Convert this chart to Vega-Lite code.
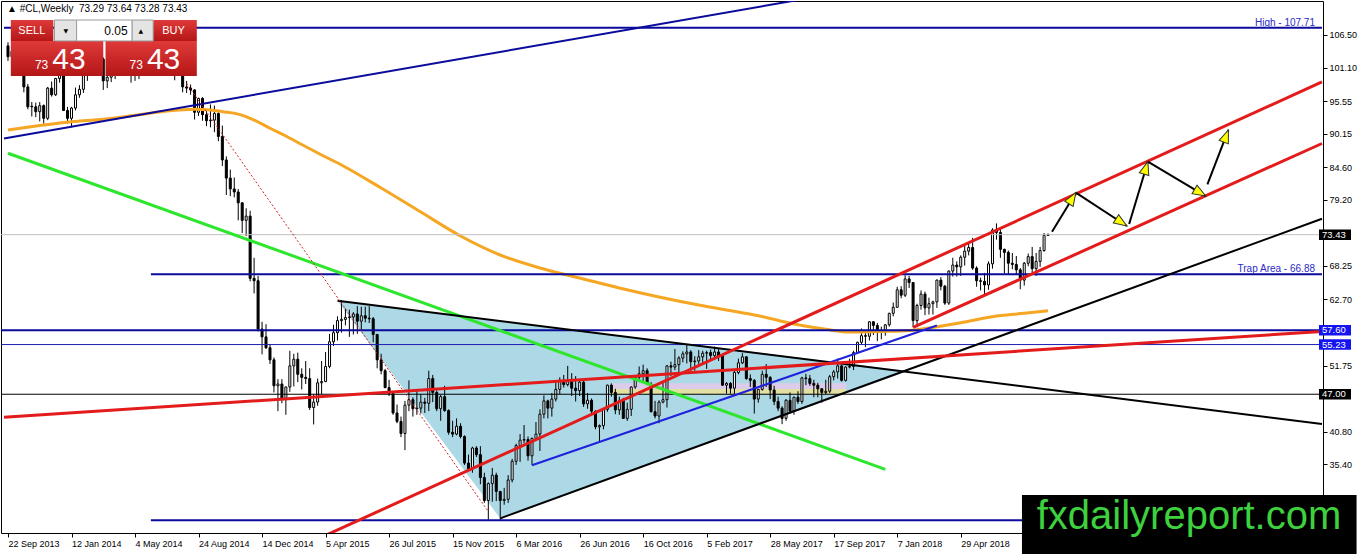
{
  "$schema": "https://vega.github.io/schema/vega-lite/v6.json",
  "width": 1322,
  "height": 532,
  "autosize": "none",
  "padding": {"left": 1, "top": 1, "right": 39, "bottom": 21},
  "background": "white",
  "title": {
    "text": "▲ #CL,Weekly\u00a0\u00a073.29 73.64 73.28 73.43",
    "anchor": "start", "frame": "group", "offset": -13, "dx": 6,
    "fontSize": 10, "fontWeight": "normal", "font": "Liberation Sans", "color": "#000000"
  },
  "datasets": {
    "tri": [
      {"d": "2015-04-26", "t": 62.49, "b": 62.49},
      {"d": "2016-02-07", "t": 59.17, "b": 26.45},
      {"d": "2018-01-26", "t": 50.85, "b": 50.85}
    ],
    "bands": [
      {"a": "2016-08-19", "b": "2017-10-09", "p": 48.82, "q": 47.87, "k": "lav"},
      {"a": "2016-08-19", "b": "2017-10-09", "p": 47.87, "q": 47.0, "k": "yel"}
    ],
    "candles": [
      {"d":"2013-09-22","o":104.7,"h":105.3,"l":102.2,"c":102.9},
      {"d":"2013-09-29","o":102.9,"h":104.3,"l":101.6,"c":103.8},
      {"d":"2013-10-06","o":103.8,"h":104.2,"l":101.0,"c":102.0},
      {"d":"2013-10-13","o":102.0,"h":102.9,"l":100.4,"c":100.8},
      {"d":"2013-10-20","o":100.8,"h":101.3,"l":97.0,"c":97.9},
      {"d":"2013-10-27","o":97.9,"h":98.4,"l":94.2,"c":94.6},
      {"d":"2013-11-03","o":94.7,"h":95.4,"l":93.0,"c":94.6},
      {"d":"2013-11-10","o":94.6,"h":95.3,"l":92.9,"c":93.8},
      {"d":"2013-11-17","o":93.8,"h":95.4,"l":92.2,"c":94.8},
      {"d":"2013-11-24","o":94.8,"h":95.0,"l":91.8,"c":92.7},
      {"d":"2013-12-01","o":92.7,"h":97.9,"l":92.4,"c":97.7},
      {"d":"2013-12-08","o":97.7,"h":98.8,"l":96.3,"c":96.6},
      {"d":"2013-12-15","o":96.6,"h":99.4,"l":96.4,"c":99.3},
      {"d":"2013-12-22","o":99.3,"h":100.8,"l":98.6,"c":100.3},
      {"d":"2013-12-29","o":100.3,"h":100.4,"l":93.9,"c":94.0},
      {"d":"2014-01-05","o":94.0,"h":94.6,"l":91.8,"c":92.7},
      {"d":"2014-01-12","o":92.7,"h":94.6,"l":91.2,"c":94.4},
      {"d":"2014-01-19","o":94.4,"h":97.8,"l":94.0,"c":96.6},
      {"d":"2014-01-26","o":96.6,"h":98.2,"l":96.1,"c":97.5},
      {"d":"2014-02-02","o":97.5,"h":100.2,"l":96.9,"c":99.9},
      {"d":"2014-02-09","o":99.9,"h":100.9,"l":98.9,"c":100.3},
      {"d":"2014-02-16","o":100.3,"h":103.8,"l":100.1,"c":102.2},
      {"d":"2014-02-23","o":102.2,"h":103.4,"l":101.3,"c":102.6},
      {"d":"2014-03-02","o":102.6,"h":105.2,"l":101.7,"c":102.5},
      {"d":"2014-03-09","o":102.5,"h":102.8,"l":97.4,"c":98.9},
      {"d":"2014-03-16","o":98.9,"h":100.4,"l":97.7,"c":99.5},
      {"d":"2014-03-23","o":99.5,"h":101.8,"l":98.7,"c":101.7},
      {"d":"2014-03-30","o":101.7,"h":102.0,"l":99.2,"c":101.1},
      {"d":"2014-04-06","o":101.1,"h":104.0,"l":100.8,"c":103.7},
      {"d":"2014-04-13","o":103.7,"h":104.9,"l":103.2,"c":104.3},
      {"d":"2014-04-20","o":104.3,"h":104.4,"l":100.5,"c":100.6},
      {"d":"2014-04-27","o":100.6,"h":101.2,"l":98.6,"c":99.8},
      {"d":"2014-05-04","o":99.8,"h":100.5,"l":98.9,"c":100.0},
      {"d":"2014-05-11","o":100.0,"h":102.4,"l":99.2,"c":102.0},
      {"d":"2014-05-18","o":102.0,"h":104.5,"l":101.8,"c":104.4},
      {"d":"2014-05-25","o":104.4,"h":104.5,"l":102.1,"c":102.7},
      {"d":"2014-06-01","o":102.7,"h":104.1,"l":101.8,"c":102.6},
      {"d":"2014-06-08","o":102.6,"h":107.2,"l":102.5,"c":106.9},
      {"d":"2014-06-15","o":106.9,"h":107.71,"l":105.9,"c":107.3},
      {"d":"2014-06-22","o":107.3,"h":107.5,"l":105.3,"c":105.7},
      {"d":"2014-06-29","o":105.7,"h":106.0,"l":103.8,"c":104.1},
      {"d":"2014-07-06","o":104.1,"h":104.2,"l":100.4,"c":100.8},
      {"d":"2014-07-13","o":100.8,"h":104.0,"l":99.0,"c":103.1},
      {"d":"2014-07-20","o":103.1,"h":105.2,"l":101.8,"c":102.1},
      {"d":"2014-07-27","o":102.1,"h":102.4,"l":97.0,"c":97.9},
      {"d":"2014-08-03","o":97.9,"h":98.9,"l":96.9,"c":97.7},
      {"d":"2014-08-10","o":97.7,"h":98.3,"l":96.6,"c":97.4},
      {"d":"2014-08-17","o":97.4,"h":97.5,"l":92.5,"c":93.7},
      {"d":"2014-08-24","o":93.7,"h":96.1,"l":93.1,"c":96.0},
      {"d":"2014-08-31","o":96.0,"h":96.2,"l":92.3,"c":93.3},
      {"d":"2014-09-07","o":93.3,"h":94.0,"l":91.4,"c":92.3},
      {"d":"2014-09-14","o":92.3,"h":95.0,"l":91.2,"c":92.4},
      {"d":"2014-09-21","o":92.4,"h":94.8,"l":90.4,"c":93.5},
      {"d":"2014-09-28","o":93.5,"h":93.7,"l":88.9,"c":89.7},
      {"d":"2014-10-05","o":89.7,"h":91.5,"l":84.8,"c":85.8},
      {"d":"2014-10-12","o":85.8,"h":86.4,"l":80.0,"c":82.8},
      {"d":"2014-10-19","o":82.8,"h":84.2,"l":79.8,"c":81.0},
      {"d":"2014-10-26","o":81.0,"h":82.9,"l":79.6,"c":80.5},
      {"d":"2014-11-02","o":80.5,"h":81.0,"l":75.8,"c":78.7},
      {"d":"2014-11-09","o":78.7,"h":78.8,"l":73.7,"c":75.8},
      {"d":"2014-11-16","o":75.8,"h":77.8,"l":73.2,"c":76.5},
      {"d":"2014-11-23","o":76.5,"h":77.4,"l":65.7,"c":66.2},
      {"d":"2014-11-30","o":66.2,"h":69.6,"l":63.7,"c":65.8},
      {"d":"2014-12-07","o":65.8,"h":66.6,"l":57.4,"c":57.8},
      {"d":"2014-12-14","o":57.8,"h":59.0,"l":53.6,"c":56.5},
      {"d":"2014-12-21","o":56.5,"h":58.6,"l":54.5,"c":54.7},
      {"d":"2014-12-28","o":54.7,"h":55.2,"l":52.0,"c":52.7},
      {"d":"2015-01-04","o":52.7,"h":53.1,"l":47.3,"c":48.4},
      {"d":"2015-01-11","o":48.4,"h":49.5,"l":44.2,"c":48.7},
      {"d":"2015-01-18","o":48.7,"h":49.5,"l":45.5,"c":46.3},
      {"d":"2015-01-25","o":46.3,"h":48.3,"l":43.6,"c":48.2},
      {"d":"2015-02-01","o":48.2,"h":54.2,"l":47.4,"c":51.7},
      {"d":"2015-02-08","o":51.7,"h":53.7,"l":48.3,"c":52.8},
      {"d":"2015-02-15","o":52.8,"h":53.9,"l":49.0,"c":50.3},
      {"d":"2015-02-22","o":50.3,"h":51.3,"l":47.8,"c":49.8},
      {"d":"2015-03-01","o":49.8,"h":52.5,"l":48.7,"c":49.6},
      {"d":"2015-03-08","o":49.6,"h":51.3,"l":44.4,"c":44.8},
      {"d":"2015-03-15","o":44.8,"h":47.0,"l":42.0,"c":45.7},
      {"d":"2015-03-22","o":45.7,"h":49.6,"l":45.1,"c":48.9},
      {"d":"2015-03-29","o":48.9,"h":52.5,"l":47.0,"c":49.1},
      {"d":"2015-04-05","o":49.1,"h":54.0,"l":49.0,"c":51.6},
      {"d":"2015-04-12","o":51.6,"h":57.0,"l":51.3,"c":55.7},
      {"d":"2015-04-19","o":55.7,"h":58.5,"l":55.0,"c":57.2},
      {"d":"2015-04-26","o":57.2,"h":59.9,"l":55.9,"c":59.2},
      {"d":"2015-05-03","o":59.2,"h":62.6,"l":57.2,"c":59.4},
      {"d":"2015-05-10","o":59.4,"h":61.2,"l":58.4,"c":59.7},
      {"d":"2015-05-17","o":59.7,"h":61.0,"l":56.5,"c":59.8},
      {"d":"2015-05-24","o":59.8,"h":60.6,"l":56.9,"c":60.3},
      {"d":"2015-05-31","o":60.3,"h":61.6,"l":57.0,"c":59.1},
      {"d":"2015-06-07","o":59.1,"h":61.5,"l":57.6,"c":60.0},
      {"d":"2015-06-14","o":60.0,"h":61.5,"l":58.9,"c":59.6},
      {"d":"2015-06-21","o":59.6,"h":61.6,"l":58.8,"c":59.5},
      {"d":"2015-06-28","o":59.5,"h":59.8,"l":55.6,"c":56.9},
      {"d":"2015-07-05","o":56.9,"h":57.0,"l":51.3,"c":52.7},
      {"d":"2015-07-12","o":52.7,"h":53.7,"l":50.3,"c":50.9},
      {"d":"2015-07-19","o":50.9,"h":51.2,"l":48.0,"c":48.1},
      {"d":"2015-07-26","o":48.1,"h":49.4,"l":46.7,"c":47.1},
      {"d":"2015-08-02","o":47.1,"h":47.2,"l":43.6,"c":43.9},
      {"d":"2015-08-09","o":43.9,"h":45.3,"l":42.2,"c":42.5},
      {"d":"2015-08-16","o":42.5,"h":43.3,"l":39.9,"c":40.5},
      {"d":"2015-08-23","o":40.5,"h":45.9,"l":37.75,"c":45.2},
      {"d":"2015-08-30","o":45.2,"h":49.3,"l":44.2,"c":46.1},
      {"d":"2015-09-06","o":46.1,"h":46.5,"l":43.3,"c":44.6},
      {"d":"2015-09-13","o":44.6,"h":47.7,"l":43.6,"c":44.7},
      {"d":"2015-09-20","o":44.7,"h":47.0,"l":43.8,"c":45.7},
      {"d":"2015-09-27","o":45.7,"h":46.4,"l":43.9,"c":45.5},
      {"d":"2015-10-04","o":45.5,"h":50.9,"l":44.2,"c":49.6},
      {"d":"2015-10-11","o":49.6,"h":50.2,"l":45.7,"c":47.3},
      {"d":"2015-10-18","o":47.3,"h":47.6,"l":44.2,"c":44.6},
      {"d":"2015-10-25","o":44.6,"h":46.9,"l":42.6,"c":46.6},
      {"d":"2015-11-01","o":46.6,"h":48.4,"l":44.1,"c":44.3},
      {"d":"2015-11-08","o":44.3,"h":44.5,"l":40.3,"c":40.7},
      {"d":"2015-11-15","o":40.7,"h":42.6,"l":39.9,"c":40.4},
      {"d":"2015-11-22","o":40.4,"h":43.0,"l":40.2,"c":41.7},
      {"d":"2015-11-29","o":41.7,"h":42.2,"l":39.7,"c":40.0},
      {"d":"2015-12-06","o":40.0,"h":40.2,"l":35.3,"c":35.6},
      {"d":"2015-12-13","o":35.6,"h":37.0,"l":34.5,"c":34.7},
      {"d":"2015-12-20","o":34.7,"h":38.3,"l":34.0,"c":38.1},
      {"d":"2015-12-27","o":38.1,"h":38.4,"l":36.6,"c":37.0},
      {"d":"2016-01-03","o":37.0,"h":38.4,"l":32.1,"c":33.2},
      {"d":"2016-01-10","o":33.2,"h":34.0,"l":29.0,"c":29.4},
      {"d":"2016-01-17","o":29.4,"h":32.4,"l":26.2,"c":32.2},
      {"d":"2016-01-24","o":32.2,"h":34.8,"l":29.2,"c":33.6},
      {"d":"2016-01-31","o":33.6,"h":34.0,"l":29.3,"c":30.9},
      {"d":"2016-02-07","o":30.9,"h":31.0,"l":26.05,"c":29.4},
      {"d":"2016-02-14","o":29.4,"h":31.5,"l":28.7,"c":29.6},
      {"d":"2016-02-21","o":29.6,"h":33.6,"l":29.0,"c":32.8},
      {"d":"2016-02-28","o":32.8,"h":36.3,"l":32.4,"c":35.9},
      {"d":"2016-03-06","o":35.9,"h":38.8,"l":35.3,"c":38.5},
      {"d":"2016-03-13","o":38.5,"h":40.4,"l":35.8,"c":39.4},
      {"d":"2016-03-20","o":39.4,"h":41.9,"l":38.9,"c":39.5},
      {"d":"2016-03-27","o":39.5,"h":40.0,"l":36.0,"c":36.8},
      {"d":"2016-04-03","o":36.8,"h":39.8,"l":35.3,"c":39.7},
      {"d":"2016-04-10","o":39.7,"h":42.4,"l":39.6,"c":40.4},
      {"d":"2016-04-17","o":40.4,"h":44.5,"l":37.6,"c":43.7},
      {"d":"2016-04-24","o":43.7,"h":46.8,"l":43.0,"c":45.9},
      {"d":"2016-05-01","o":45.9,"h":46.1,"l":43.0,"c":44.7},
      {"d":"2016-05-08","o":44.7,"h":47.2,"l":43.3,"c":46.2},
      {"d":"2016-05-15","o":46.2,"h":48.9,"l":45.8,"c":47.8},
      {"d":"2016-05-22","o":47.8,"h":49.8,"l":47.0,"c":49.3},
      {"d":"2016-05-29","o":49.3,"h":50.2,"l":48.1,"c":48.6},
      {"d":"2016-06-05","o":48.6,"h":51.7,"l":48.3,"c":49.1},
      {"d":"2016-06-12","o":49.1,"h":50.5,"l":46.7,"c":48.0},
      {"d":"2016-06-19","o":48.0,"h":50.0,"l":45.8,"c":47.6},
      {"d":"2016-06-26","o":47.6,"h":49.4,"l":46.7,"c":49.0},
      {"d":"2016-07-03","o":49.0,"h":49.3,"l":44.9,"c":45.4},
      {"d":"2016-07-10","o":45.4,"h":47.2,"l":44.6,"c":46.0},
      {"d":"2016-07-17","o":46.0,"h":46.3,"l":43.8,"c":44.2},
      {"d":"2016-07-24","o":44.2,"h":44.3,"l":41.2,"c":41.6},
      {"d":"2016-07-31","o":41.6,"h":42.0,"l":39.2,"c":41.8},
      {"d":"2016-08-07","o":41.8,"h":44.7,"l":41.2,"c":44.5},
      {"d":"2016-08-14","o":44.5,"h":48.6,"l":44.1,"c":48.5},
      {"d":"2016-08-21","o":48.5,"h":48.8,"l":46.6,"c":47.3},
      {"d":"2016-08-28","o":47.3,"h":47.9,"l":43.7,"c":44.4},
      {"d":"2016-09-04","o":44.4,"h":46.6,"l":43.6,"c":45.9},
      {"d":"2016-09-11","o":45.9,"h":46.4,"l":42.9,"c":43.0},
      {"d":"2016-09-18","o":43.0,"h":45.6,"l":42.6,"c":44.5},
      {"d":"2016-09-25","o":44.5,"h":48.3,"l":43.4,"c":48.2},
      {"d":"2016-10-02","o":48.2,"h":50.0,"l":47.9,"c":49.8},
      {"d":"2016-10-09","o":49.8,"h":51.6,"l":49.2,"c":50.4},
      {"d":"2016-10-16","o":50.4,"h":51.9,"l":49.1,"c":50.9},
      {"d":"2016-10-23","o":50.9,"h":51.3,"l":48.5,"c":48.7},
      {"d":"2016-10-30","o":48.7,"h":49.0,"l":44.0,"c":44.1},
      {"d":"2016-11-06","o":44.1,"h":45.9,"l":43.0,"c":43.4},
      {"d":"2016-11-13","o":43.4,"h":46.0,"l":42.2,"c":45.7},
      {"d":"2016-11-20","o":45.7,"h":49.2,"l":45.5,"c":46.1},
      {"d":"2016-11-27","o":46.1,"h":51.8,"l":44.8,"c":51.7},
      {"d":"2016-12-04","o":51.7,"h":52.4,"l":50.0,"c":51.5},
      {"d":"2016-12-11","o":51.5,"h":54.5,"l":51.0,"c":51.9},
      {"d":"2016-12-18","o":51.9,"h":53.3,"l":50.7,"c":53.0},
      {"d":"2016-12-25","o":53.0,"h":54.1,"l":52.3,"c":53.7},
      {"d":"2017-01-01","o":53.7,"h":55.2,"l":52.1,"c":54.0},
      {"d":"2017-01-08","o":54.0,"h":54.3,"l":50.9,"c":52.4},
      {"d":"2017-01-15","o":52.4,"h":53.3,"l":50.9,"c":52.5},
      {"d":"2017-01-22","o":52.5,"h":54.3,"l":51.9,"c":53.2},
      {"d":"2017-01-29","o":53.2,"h":54.2,"l":51.9,"c":53.8},
      {"d":"2017-02-05","o":53.8,"h":54.2,"l":51.2,"c":53.9},
      {"d":"2017-02-12","o":53.9,"h":54.4,"l":52.6,"c":53.4},
      {"d":"2017-02-19","o":53.4,"h":54.9,"l":52.9,"c":54.0},
      {"d":"2017-02-26","o":54.0,"h":54.6,"l":52.5,"c":53.3},
      {"d":"2017-03-05","o":53.3,"h":53.4,"l":48.4,"c":48.5},
      {"d":"2017-03-12","o":48.5,"h":49.0,"l":47.1,"c":48.8},
      {"d":"2017-03-19","o":48.8,"h":49.0,"l":47.1,"c":48.0},
      {"d":"2017-03-26","o":48.0,"h":50.9,"l":47.0,"c":50.6},
      {"d":"2017-04-02","o":50.6,"h":52.9,"l":50.3,"c":52.2},
      {"d":"2017-04-09","o":52.2,"h":53.8,"l":52.0,"c":53.2},
      {"d":"2017-04-16","o":53.2,"h":53.3,"l":49.4,"c":49.6},
      {"d":"2017-04-23","o":49.6,"h":50.3,"l":48.2,"c":49.3},
      {"d":"2017-04-30","o":49.3,"h":49.5,"l":43.8,"c":46.2},
      {"d":"2017-05-07","o":46.2,"h":47.9,"l":45.6,"c":47.8},
      {"d":"2017-05-14","o":47.8,"h":50.9,"l":47.6,"c":50.3},
      {"d":"2017-05-21","o":50.3,"h":52.0,"l":48.2,"c":49.8},
      {"d":"2017-05-28","o":49.8,"h":50.0,"l":46.2,"c":47.7},
      {"d":"2017-06-04","o":47.7,"h":48.4,"l":45.2,"c":45.8},
      {"d":"2017-06-11","o":45.8,"h":46.6,"l":44.2,"c":44.7},
      {"d":"2017-06-18","o":44.7,"h":45.0,"l":42.05,"c":43.0},
      {"d":"2017-06-25","o":43.0,"h":46.2,"l":42.6,"c":46.0},
      {"d":"2017-07-02","o":46.0,"h":47.3,"l":43.8,"c":44.2},
      {"d":"2017-07-09","o":44.2,"h":46.6,"l":43.6,"c":46.5},
      {"d":"2017-07-16","o":46.5,"h":47.5,"l":45.4,"c":45.8},
      {"d":"2017-07-23","o":45.8,"h":49.9,"l":45.4,"c":49.7},
      {"d":"2017-07-30","o":49.7,"h":50.4,"l":48.5,"c":49.6},
      {"d":"2017-08-06","o":49.6,"h":50.2,"l":48.4,"c":48.8},
      {"d":"2017-08-13","o":48.8,"h":49.4,"l":46.5,"c":48.5},
      {"d":"2017-08-20","o":48.5,"h":48.9,"l":46.5,"c":47.9},
      {"d":"2017-08-27","o":47.9,"h":48.0,"l":45.6,"c":47.3},
      {"d":"2017-09-03","o":47.3,"h":49.4,"l":47.0,"c":47.5},
      {"d":"2017-09-10","o":47.5,"h":50.2,"l":47.2,"c":49.9},
      {"d":"2017-09-17","o":49.9,"h":51.0,"l":49.3,"c":50.7},
      {"d":"2017-09-24","o":50.7,"h":52.9,"l":49.6,"c":51.7},
      {"d":"2017-10-01","o":51.7,"h":51.8,"l":49.1,"c":49.3},
      {"d":"2017-10-08","o":49.3,"h":51.6,"l":49.1,"c":51.5},
      {"d":"2017-10-15","o":51.5,"h":52.9,"l":51.3,"c":51.6},
      {"d":"2017-10-22","o":51.6,"h":54.2,"l":51.0,"c":53.9},
      {"d":"2017-10-29","o":53.9,"h":55.7,"l":53.8,"c":55.6},
      {"d":"2017-11-05","o":55.6,"h":57.9,"l":55.3,"c":56.7},
      {"d":"2017-11-12","o":56.7,"h":57.2,"l":54.8,"c":56.6},
      {"d":"2017-11-19","o":56.6,"h":59.1,"l":55.9,"c":59.0},
      {"d":"2017-11-26","o":59.0,"h":59.1,"l":56.8,"c":58.4},
      {"d":"2017-12-03","o":58.4,"h":58.8,"l":55.8,"c":57.4},
      {"d":"2017-12-10","o":57.4,"h":58.2,"l":56.1,"c":57.3},
      {"d":"2017-12-17","o":57.3,"h":58.6,"l":56.7,"c":58.5},
      {"d":"2017-12-24","o":58.5,"h":60.5,"l":58.2,"c":60.4},
      {"d":"2017-12-31","o":60.4,"h":62.2,"l":59.9,"c":61.4},
      {"d":"2018-01-07","o":61.4,"h":64.8,"l":61.3,"c":64.3},
      {"d":"2018-01-14","o":64.3,"h":64.9,"l":62.9,"c":63.4},
      {"d":"2018-01-21","o":63.4,"h":66.7,"l":63.1,"c":66.1},
      {"d":"2018-01-28","o":66.1,"h":66.6,"l":64.6,"c":65.5},
      {"d":"2018-02-04","o":65.5,"h":65.6,"l":58.1,"c":59.2},
      {"d":"2018-02-11","o":59.2,"h":62.0,"l":58.1,"c":61.7},
      {"d":"2018-02-18","o":61.7,"h":64.2,"l":61.0,"c":63.6},
      {"d":"2018-02-25","o":63.6,"h":64.0,"l":60.1,"c":61.3},
      {"d":"2018-03-04","o":61.3,"h":63.0,"l":60.2,"c":62.0},
      {"d":"2018-03-11","o":62.0,"h":62.5,"l":60.2,"c":62.3},
      {"d":"2018-03-18","o":62.3,"h":66.0,"l":61.3,"c":65.9},
      {"d":"2018-03-25","o":65.9,"h":66.4,"l":64.2,"c":64.9},
      {"d":"2018-04-01","o":64.9,"h":65.1,"l":61.8,"c":62.1},
      {"d":"2018-04-08","o":62.1,"h":67.5,"l":61.8,"c":67.4},
      {"d":"2018-04-15","o":67.4,"h":69.6,"l":66.5,"c":68.4},
      {"d":"2018-04-22","o":68.4,"h":69.0,"l":66.5,"c":68.1},
      {"d":"2018-04-29","o":68.1,"h":70.0,"l":66.6,"c":69.7},
      {"d":"2018-05-06","o":69.7,"h":71.9,"l":68.3,"c":70.7},
      {"d":"2018-05-13","o":70.7,"h":72.2,"l":70.0,"c":71.3},
      {"d":"2018-05-20","o":71.3,"h":72.9,"l":67.6,"c":67.9},
      {"d":"2018-05-27","o":67.9,"h":68.2,"l":64.8,"c":65.8},
      {"d":"2018-06-03","o":65.8,"h":66.3,"l":64.2,"c":65.7},
      {"d":"2018-06-10","o":65.7,"h":67.1,"l":63.6,"c":65.1},
      {"d":"2018-06-17","o":65.1,"h":69.0,"l":64.3,"c":68.6},
      {"d":"2018-06-24","o":68.6,"h":74.5,"l":67.8,"c":74.2},
      {"d":"2018-07-01","o":74.2,"h":75.3,"l":72.6,"c":73.8},
      {"d":"2018-07-08","o":73.8,"h":74.7,"l":69.6,"c":71.0},
      {"d":"2018-07-15","o":71.0,"h":71.1,"l":67.0,"c":70.5},
      {"d":"2018-07-22","o":70.5,"h":70.8,"l":66.9,"c":68.7},
      {"d":"2018-07-29","o":68.7,"h":70.4,"l":67.7,"c":68.5},
      {"d":"2018-08-05","o":68.5,"h":69.9,"l":66.9,"c":67.6},
      {"d":"2018-08-12","o":67.6,"h":67.9,"l":64.4,"c":65.9},
      {"d":"2018-08-19","o":65.9,"h":68.9,"l":65.0,"c":68.7},
      {"d":"2018-08-26","o":68.7,"h":70.3,"l":68.2,"c":69.8},
      {"d":"2018-09-02","o":69.8,"h":71.4,"l":66.9,"c":67.8},
      {"d":"2018-09-09","o":67.8,"h":70.4,"l":66.6,"c":69.0},
      {"d":"2018-09-16","o":69.0,"h":71.4,"l":68.1,"c":70.8},
      {"d":"2018-09-23","o":70.8,"h":73.7,"l":70.6,"c":73.3},
      {"d":"2018-09-30","o":73.29,"h":73.64,"l":73.28,"c":73.43}
    ],
    "ma": [
      {"d":"2013-09-22","p":90.77},{"d":"2013-11-17","p":91.5},{"d":"2014-01-12","p":92.14},
      {"d":"2014-03-09","p":92.54},{"d":"2014-05-04","p":93.2},{"d":"2014-06-29","p":93.9},
      {"d":"2014-08-17","p":94.19},{"d":"2014-09-14","p":94.08},{"d":"2014-10-05","p":93.8},
      {"d":"2014-11-02","p":93.4},{"d":"2014-11-30","p":92.42},{"d":"2014-12-28","p":91.05},
      {"d":"2015-01-25","p":89.77},{"d":"2015-02-22","p":88.36},{"d":"2015-03-29","p":86.63},
      {"d":"2015-05-03","p":84.97},
      {"d":"2015-07-12","p":81.16},{"d":"2015-09-20","p":77.18},{"d":"2015-11-29","p":73.21},
      {"d":"2016-02-07","p":70.06},{"d":"2016-04-17","p":67.91},{"d":"2016-06-26","p":66.26},
      {"d":"2016-09-04","p":64.6},{"d":"2016-11-13","p":63.11},{"d":"2017-01-22","p":61.78},
      {"d":"2017-04-02","p":60.62},{"d":"2017-05-07","p":60.01},{"d":"2017-07-09","p":58.64},
      {"d":"2017-09-03","p":57.76},{"d":"2017-10-15","p":57.31},{"d":"2017-12-10","p":57.4},
      {"d":"2018-01-28","p":57.56},{"d":"2018-03-18","p":58.19},{"d":"2018-04-29","p":58.85},
      {"d":"2018-06-24","p":59.84},{"d":"2018-08-19","p":60.41},{"d":"2018-09-30","p":60.84}
    ],
    "levels": [
      {"p": 73.43, "k": "bid"},
      {"p": 57.60, "k": "navy"},
      {"p": 55.23, "k": "blue"},
      {"p": 47.00, "k": "black"}
    ],
    "seg": [
      {"a":"2013-09-15","b":"2017-07-23","p":89.37,"q":112.41,"k":"navy"},
      {"a":"2013-09-15","b":"2020-01-26","p":107.71,"q":107.71,"k":"navy"},
      {"a":"2014-06-01","b":"2020-01-26","p":66.88,"q":66.88,"k":"navy"},
      {"a":"2014-06-01","b":"2020-01-26","p":26.15,"q":26.15,"k":"navy"},
      {"a":"2013-09-22","b":"2017-12-17","p":86.92,"q":34.57,"k":"green"},
      {"a":"2015-04-26","b":"2020-01-26","p":62.49,"q":42.09,"k":"black"},
      {"a":"2016-02-07","b":"2020-01-26","p":26.45,"q":76.06,"k":"black"},
      {"a":"2016-04-03","b":"2018-03-18","p":35.25,"q":58.39,"k":"blue"},
      {"a":"2013-09-15","b":"2020-01-26","p":43.19,"q":57.41,"k":"red"},
      {"a":"2015-04-05","b":"2020-01-26","p":23.63,"q":98.72,"k":"red"},
      {"a":"2018-02-04","b":"2020-01-26","p":58.06,"q":88.53,"k":"red"},
      {"a":"2018-10-07","b":"2018-11-18","p":73.92,"q":80.38,"k":"arrow"},
      {"a":"2018-11-18","b":"2019-02-16","p":80.38,"q":74.87,"k":"arrow"},
      {"a":"2019-02-20","b":"2019-03-25","p":75.20,"q":85.52,"k":"arrow"},
      {"a":"2019-03-25","b":"2019-07-05","p":85.52,"q":79.83,"k":"arrow"},
      {"a":"2019-07-08","b":"2019-08-14","p":81.77,"q":90.77,"k":"arrow"}
    ],
    "dotted": [
      {"a":"2014-08-03","b":"2016-01-17","p":98.47,"q":27.58}
    ],
    "heads": [
      {"d":"2018-11-18","p":80.38,"a":32},
      {"d":"2019-02-16","p":74.87,"a":123},
      {"d":"2019-03-25","p":85.52,"a":17},
      {"d":"2019-07-05","p":79.83,"a":120.5},
      {"d":"2019-08-14","p":90.77,"a":21}
    ],
    "notes": [
      {"t": "High - 107.71", "p": 107.71},
      {"t": "Trap Area - 66.88", "p": 66.88}
    ],
    "panel": [
      {"a":"2013-09-27","b":"2013-12-11","p":108.98,"q":105.51,"k":"red"},
      {"a":"2014-06-05","b":"2014-08-21","p":108.98,"q":105.51,"k":"red"},
      {"a":"2013-09-27","b":"2014-03-09","p":105.51,"q":99.71,"k":"red"},
      {"a":"2014-03-13","b":"2014-08-21","p":105.51,"q":99.71,"k":"red"},
      {"a":"2013-12-13","b":"2014-01-21","p":108.98,"q":105.51,"k":"gray"},
      {"a":"2014-01-21","b":"2014-04-29","p":108.98,"q":105.51,"k":"white"},
      {"a":"2014-04-29","b":"2014-06-05","p":108.98,"q":105.51,"k":"gray"}
    ],
    "ptext": [
      {"d":"2013-11-03","p":107.16,"t":"SELL","k":"btn"},
      {"d":"2014-07-11","p":107.16,"t":"BUY","k":"btn"},
      {"d":"2014-04-21","p":107.16,"t":"0.05","k":"inp"},
      {"d":"2014-01-02","p":107.16,"t":"▼","k":"arr"},
      {"d":"2014-05-14","p":107.16,"t":"▲","k":"arr"},
      {"d":"2013-12-02","p":100.82,"t":"73","k":"sm"},
      {"d":"2014-05-18","p":100.82,"t":"73","k":"sm"},
      {"d":"2013-12-09","p":100.82,"t":"43","k":"big"},
      {"d":"2014-05-25","p":100.82,"t":"43","k":"big"}
    ],
    "wm": [
      {"a":"2018-08-15","b":"2020-03-27","p":30.31,"q":20.55,"d":"2019-06-05T12:00:00Z","y":24.68,"t":"fxdailyreport.com"}
    ]
  },
  "layer": [
    {
      "data": {"name": "tri"},
      "mark": {"type": "area", "color": "#ADD8E6", "opacity": 1},
      "encoding": {
        "x": {
          "field": "d", "type": "temporal", "title": null,
          "scale": {"type": "utc", "nice": false,
            "domain": [{"year": 2013, "month": 9, "date": 18, "hours": 12, "utc": true}, {"year": 2020, "month": 1, "date": 19, "utc": true}]},
          "axis": {
            "orient": "bottom",
            "values": [
              {"year":2013,"month":9,"date":22,"utc":true},{"year":2014,"month":1,"date":12,"utc":true},
              {"year":2014,"month":5,"date":4,"utc":true},{"year":2014,"month":8,"date":24,"utc":true},
              {"year":2014,"month":12,"date":14,"utc":true},{"year":2015,"month":4,"date":5,"utc":true},
              {"year":2015,"month":7,"date":26,"utc":true},{"year":2015,"month":11,"date":15,"utc":true},
              {"year":2016,"month":3,"date":6,"utc":true},{"year":2016,"month":6,"date":26,"utc":true},
              {"year":2016,"month":10,"date":16,"utc":true},{"year":2017,"month":2,"date":5,"utc":true},
              {"year":2017,"month":5,"date":28,"utc":true},{"year":2017,"month":9,"date":17,"utc":true},
              {"year":2018,"month":1,"date":7,"utc":true},{"year":2018,"month":4,"date":29,"utc":true}
            ],
            "labelExpr": "utcFormat(datum.value, '%-d %b %Y')",
            "labelAlign": "left", "labelFontSize": 9, "tickSize": 4, "labelPadding": 2,
            "labelOverlap": false, "labelFlush": false, "grid": false, "domain": false
          }
        },
        "y": {
          "field": "t", "type": "quantitative", "title": null,
          "scale": {"domain": [24.02, 112.13], "nice": false, "zero": false},
          "axis": {
            "orient": "right",
            "values": [106.5, 101.1, 95.55, 90.15, 84.6, 79.2, 68.25, 62.7, 51.75, 40.8, 35.4],
            "format": ".2f", "labelAlign": "left", "labelFontSize": 9, "tickSize": 4, "labelPadding": 2,
            "labelOverlap": false, "labelFlush": false, "grid": false, "domain": false
          }
        },
        "y2": {"field": "b"}
      }
    },
    {
      "data": {"name": "bands"},
      "mark": {"type": "rect"},
      "encoding": {
        "x": {"field": "a", "type": "temporal"},
        "x2": {"field": "b"},
        "y": {"field": "p", "type": "quantitative"},
        "y2": {"field": "q"},
        "fill": {"condition": {"test": "datum.k == 'lav'", "value": "#DCCBEA"}, "value": "#E2E0A2"}
      }
    },
    {
      "data": {"name": "candles"},
      "mark": {"type": "rule", "color": "#000000", "strokeWidth": 1},
      "encoding": {
        "x": {"field": "d", "type": "temporal"},
        "y": {"field": "l", "type": "quantitative"},
        "y2": {"field": "h"}
      }
    },
    {
      "data": {"name": "candles"},
      "mark": {"type": "bar", "width": 2, "stroke": "#000000", "strokeWidth": 1},
      "encoding": {
        "x": {"field": "d", "type": "temporal"},
        "y": {"field": "o", "type": "quantitative"},
        "y2": {"field": "c"},
        "fill": {"condition": {"test": "datum.c >= datum.o", "value": "#ffffff"}, "value": "#000000"}
      }
    },
    {
      "data": {"name": "ma"},
      "mark": {"type": "line", "color": "#F5A623", "strokeWidth": 3, "interpolate": "monotone"},
      "encoding": {
        "x": {"field": "d", "type": "temporal"},
        "y": {"field": "p", "type": "quantitative"}
      }
    },
    {
      "data": {"name": "levels"},
      "mark": {"type": "rule"},
      "encoding": {
        "y": {"field": "p", "type": "quantitative"},
        "color": {"condition": [
          {"test": "datum.k == 'bid'", "value": "#C0C0C0"},
          {"test": "datum.k == 'navy'", "value": "#0A0A9C"},
          {"test": "datum.k == 'blue'", "value": "#1E1EB4"}
        ], "value": "#000000"},
        "strokeWidth": {"condition": {"test": "datum.k == 'navy'", "value": 2}, "value": 1}
      }
    },
    {
      "data": {"name": "seg"},
      "mark": {"type": "rule", "clip": true},
      "encoding": {
        "x": {"field": "a", "type": "temporal"},
        "x2": {"field": "b"},
        "y": {"field": "p", "type": "quantitative"},
        "y2": {"field": "q"},
        "color": {"condition": [
          {"test": "datum.k == 'navy'", "value": "#0A0A9C"},
          {"test": "datum.k == 'green'", "value": "#2EE62E"},
          {"test": "datum.k == 'blue'", "value": "#1E22DC"},
          {"test": "datum.k == 'red'", "value": "#E41B1B"}
        ], "value": "#000000"},
        "strokeWidth": {"condition": [
          {"test": "datum.k == 'green'", "value": 3},
          {"test": "datum.k == 'red'", "value": 3}
        ], "value": 2}
      }
    },
    {
      "data": {"name": "dotted"},
      "mark": {"type": "rule", "clip": true, "color": "#D02020", "strokeWidth": 1, "strokeDash": [2, 2]},
      "encoding": {
        "x": {"field": "a", "type": "temporal"},
        "x2": {"field": "b"},
        "y": {"field": "p", "type": "quantitative"},
        "y2": {"field": "q"}
      }
    },
    {
      "data": {"name": "heads"},
      "mark": {"type": "point", "shape": "M0,0L-0.38,1L0.38,1Z", "size": 676, "filled": true, "fill": "#FFFF00", "stroke": "#333333", "strokeWidth": 1, "opacity": 1},
      "encoding": {
        "x": {"field": "d", "type": "temporal"},
        "y": {"field": "p", "type": "quantitative"},
        "angle": {"field": "a", "type": "quantitative", "scale": null}
      }
    },
    {
      "data": {"name": "notes"},
      "mark": {"type": "text", "align": "right", "baseline": "alphabetic", "dx": -3, "dy": -2, "fontSize": 10, "color": "#2B2BC8"},
      "encoding": {
        "x": {"datum": {"year": 2020, "month": 1, "date": 19, "utc": true}, "type": "temporal"},
        "y": {"field": "p", "type": "quantitative"},
        "text": {"field": "t"}
      }
    },
    {
      "data": {"name": "levels"},
      "mark": {"type": "point", "shape": "M0.03,-0.16L1,-0.16L1,0.16L0.03,0.16Z", "size": 4356, "filled": true, "opacity": 1, "strokeWidth": 0},
      "encoding": {
        "x": {"datum": {"year": 2020, "month": 1, "date": 19, "utc": true}, "type": "temporal"},
        "y": {"field": "p", "type": "quantitative"},
        "fill": {"condition": {"test": "datum.k == 'navy' || datum.k == 'blue'", "value": "#1414F0"}, "value": "#000000"}
      }
    },
    {
      "data": {"name": "levels"},
      "mark": {"type": "text", "align": "left", "baseline": "middle", "dx": 4, "fontSize": 9.5, "color": "#ffffff"},
      "encoding": {
        "x": {"datum": {"year": 2020, "month": 1, "date": 19, "utc": true}, "type": "temporal"},
        "y": {"field": "p", "type": "quantitative"},
        "text": {"field": "p", "type": "quantitative", "format": ".2f"}
      }
    },
    {
      "data": {"name": "panel"},
      "transform": [{"filter": "datum.k == 'red'"}],
      "mark": {"type": "rect", "fill": {"gradient": "linear", "x1": 0, "y1": 0, "x2": 0, "y2": 1,
        "stops": [{"offset": 0, "color": "#E03A3A"}, {"offset": 1, "color": "#B41616"}]}},
      "encoding": {
        "x": {"field": "a", "type": "temporal"},
        "x2": {"field": "b"},
        "y": {"field": "p", "type": "quantitative"},
        "y2": {"field": "q"}
      }
    },
    {
      "data": {"name": "panel"},
      "transform": [{"filter": "datum.k != 'red'"}],
      "mark": {"type": "rect", "stroke": "#9A9A9A", "strokeWidth": 1},
      "encoding": {
        "x": {"field": "a", "type": "temporal"},
        "x2": {"field": "b"},
        "y": {"field": "p", "type": "quantitative"},
        "y2": {"field": "q"},
        "fill": {"condition": {"test": "datum.k == 'gray'", "value": "#E4E4E4"}, "value": "#ffffff"}
      }
    },
    {
      "data": {"name": "ptext"},
      "transform": [{"filter": "datum.k == 'btn'"}],
      "mark": {"type": "text", "align": "center", "baseline": "middle", "fontSize": 11, "color": "#ffffff"},
      "encoding": {
        "x": {"field": "d", "type": "temporal"},
        "y": {"field": "p", "type": "quantitative"},
        "text": {"field": "t"}
      }
    },
    {
      "data": {"name": "ptext"},
      "transform": [{"filter": "datum.k == 'inp'"}],
      "mark": {"type": "text", "align": "right", "baseline": "middle", "fontSize": 12, "color": "#000000"},
      "encoding": {
        "x": {"field": "d", "type": "temporal"},
        "y": {"field": "p", "type": "quantitative"},
        "text": {"field": "t"}
      }
    },
    {
      "data": {"name": "ptext"},
      "transform": [{"filter": "datum.k == 'arr'"}],
      "mark": {"type": "text", "align": "center", "baseline": "middle", "fontSize": 6, "color": "#000000", "font": "DejaVu Sans"},
      "encoding": {
        "x": {"field": "d", "type": "temporal"},
        "y": {"field": "p", "type": "quantitative"},
        "text": {"field": "t"}
      }
    },
    {
      "data": {"name": "ptext"},
      "transform": [{"filter": "datum.k == 'sm'"}],
      "mark": {"type": "text", "align": "right", "baseline": "alphabetic", "fontSize": 12, "color": "#ffffff"},
      "encoding": {
        "x": {"field": "d", "type": "temporal"},
        "y": {"field": "p", "type": "quantitative"},
        "text": {"field": "t"}
      }
    },
    {
      "data": {"name": "ptext"},
      "transform": [{"filter": "datum.k == 'big'"}],
      "mark": {"type": "text", "align": "left", "baseline": "alphabetic", "fontSize": 30, "color": "#ffffff"},
      "encoding": {
        "x": {"field": "d", "type": "temporal"},
        "y": {"field": "p", "type": "quantitative"},
        "text": {"field": "t"}
      }
    },
    {
      "data": {"name": "wm"},
      "mark": {"type": "rect", "fill": "#000000"},
      "encoding": {
        "x": {"field": "a", "type": "temporal"},
        "x2": {"field": "b"},
        "y": {"field": "p", "type": "quantitative"},
        "y2": {"field": "q"}
      }
    },
    {
      "data": {"name": "wm"},
      "mark": {"type": "text", "align": "center", "baseline": "alphabetic", "fontSize": 40, "color": "#3ED13E"},
      "encoding": {
        "x": {"field": "d", "type": "temporal"},
        "y": {"field": "y", "type": "quantitative"},
        "text": {"field": "t"}
      }
    }
  ],
  "config": {
    "font": "Liberation Sans",
    "view": {"stroke": "#000000", "strokeWidth": 1},
    "axis": {"labelFont": "Liberation Sans", "labelColor": "#000000", "tickColor": "#000000", "domain": false, "grid": false, "labelOverlap": false},
    "axisY": {"labelOverlap": false},
    "axisX": {"labelOverlap": false}
  }
}
